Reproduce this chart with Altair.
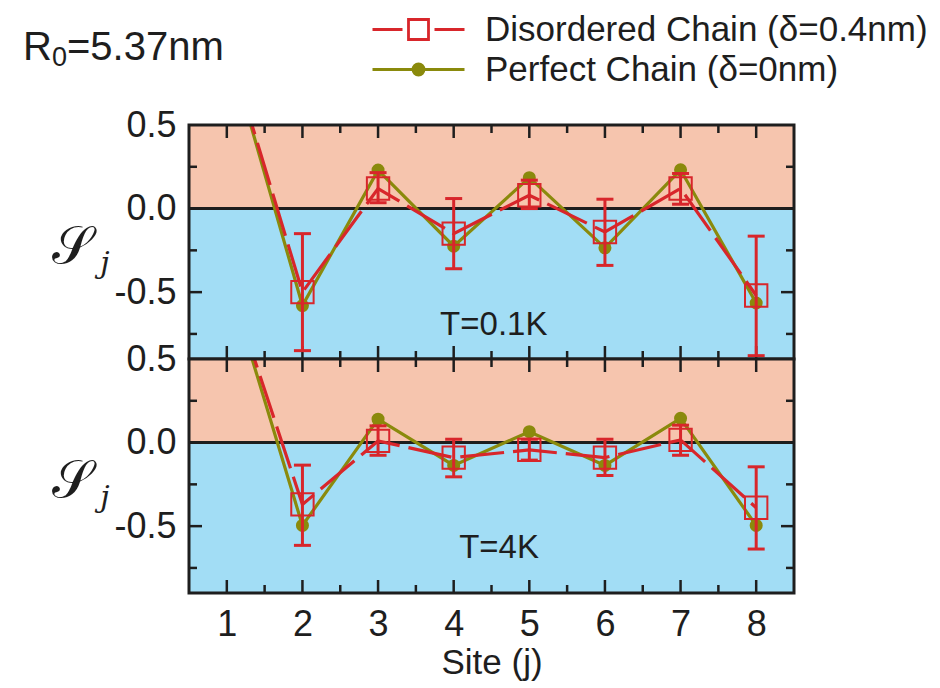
import altair as alt
import pandas as pd

# ---------------- data ----------------
sites = [1, 2, 3, 4, 5, 6, 7, 8]
series_names = ["Disordered Chain (δ=0.4nm)", "Perfect Chain (δ=0nm)"]

# T = 0.1 K
dis_01 = [1.0, -0.50, 0.12, -0.15, 0.08, -0.14, 0.12, -0.52]
dis_01_lo = [None, -0.85, 0.035, -0.36, 0.0, -0.34, 0.026, -0.88]
dis_01_hi = [None, -0.15, 0.215, 0.06, 0.17, 0.056, 0.21, -0.165]
per_01 = [1.0, -0.58, 0.23, -0.225, 0.185, -0.235, 0.232, -0.565]

# T = 4 K
dis_4 = [1.0, -0.37, 0.01, -0.09, -0.044, -0.09, 0.016, -0.39]
dis_4_lo = [None, -0.615, -0.076, -0.205, -0.105, -0.197, -0.076, -0.637]
dis_4_hi = [None, -0.135, 0.10, 0.02, 0.02, 0.02, 0.104, -0.145]
per_4 = [1.0, -0.496, 0.14, -0.137, 0.065, -0.137, 0.145, -0.496]

x_domain = [0.5, 8.5]
y_domain = [-0.9, 0.5]
y_labels = [-0.5, 0.0, 0.5]
x_major = [1, 2, 3, 4, 5, 6, 7, 8]
x_minor = [1.5, 2.5, 3.5, 4.5, 5.5, 6.5, 7.5]
y_major = [0.0, -0.5]
y_minor = [0.25, -0.25, -0.75]

# ---------------- style ----------------
W, H = 605, 234
RED = "#d8262b"
OLIVE = "#8a8a0c"
SALMON = "#f6c5ae"
BLUE = "#a2ddf5"
INK = "#1e1e1e"
FONT = "Liberation Sans, Arial, sans-serif"

xs = alt.Scale(domain=x_domain, nice=False, zero=False)
ys = alt.Scale(domain=y_domain, nice=False, zero=False)

SQ_PATH = "M-4.6,0H-1.6M1.6,0H4.6M-1,-1H1V1H-1Z"
CI_PATH = ("M-4.6,0H4.6"
           "M-0.55,0A0.55,0.55 0 1,0 0.55,0A0.55,0.55 0 1,0 -0.55,0Z"
           "M-0.3,0A0.3,0.3 0 1,0 0.3,0A0.3,0.3 0 1,0 -0.3,0Z"
           "M-0.08,0A0.08,0.08 0 1,0 0.08,0A0.08,0.08 0 1,0 -0.08,0Z")


def panel(dis, lo, hi, per, tlabel, tx, ty, bottom, top):
    df = pd.DataFrame({"site": sites, "dis": dis, "lo": lo, "hi": hi, "per": per})
    base = alt.Chart(df)

    if bottom:
        xax = alt.Axis(values=x_major, format="d", ticks=False, domain=False, grid=False,
                       labelFont=FONT, labelFontSize=36, labelColor=INK, labelPadding=14,
                       title="Site (j)", titleFont=FONT, titleFontSize=35,
                       titleFontWeight="normal", titleColor=INK, titlePadding=3)
    else:
        xax = None
    yax = alt.Axis(values=y_labels, ticks=False, domain=False, grid=False,
                   labelExpr="replace(format(datum.value, '.1f'), '\u2212', '-')",
                   labelFont=FONT, labelFontSize=36, labelColor=INK, labelPadding=13,
                   title=None)

    def X(f):
        return alt.X(f, scale=xs, axis=xax, title="Site (j)" if bottom else None)

    def Y(f):
        return alt.Y(f, scale=ys, axis=yax, title=None)

    bands = pd.DataFrame({"x0": [x_domain[0], x_domain[0]], "x1": [x_domain[1], x_domain[1]],
                          "y0": [0.0, y_domain[0]], "y1": [y_domain[1], 0.0],
                          "band": ["pos", "neg"]})
    band_layer = alt.Chart(bands).mark_rect().encode(
        x=X("x0:Q"), x2="x1:Q", y=Y("y0:Q"), y2="y1:Q",
        fill=alt.Fill("band:N", scale=alt.Scale(domain=["pos", "neg"], range=[SALMON, BLUE]),
                      legend=None),
    )
    frame = alt.Chart(pd.DataFrame({"x0": [x_domain[0]], "x1": [x_domain[1]],
                                    "y0": [y_domain[0]], "y1": [y_domain[1]]})).mark_rect(
        fillOpacity=0, stroke=INK, strokeWidth=3
    ).encode(x=X("x0:Q"), x2="x1:Q", y=Y("y0:Q"), y2="y1:Q")

    zero = alt.Chart(pd.DataFrame({"z": [0.0]})).mark_rule(
        color=INK, strokeWidth=3
    ).encode(y=Y("z:Q"))

    xmaj = pd.DataFrame({"t": x_major})
    xmin = pd.DataFrame({"t": x_minor})
    ymaj = pd.DataFrame({"t": y_major})
    ymin = pd.DataFrame({"t": y_minor})
    ticks = []
    for d, L in ((xmaj, 13), (xmin, 8)):
        ticks.append(alt.Chart(d).mark_rule(color=INK, strokeWidth=2.5).encode(
            x=X("t:Q"), y=alt.value(0), y2=alt.value(L)))
        ticks.append(alt.Chart(d).mark_rule(color=INK, strokeWidth=2.5).encode(
            x=X("t:Q"), y=alt.value(H), y2=alt.value(H - L)))
    for d, L in ((ymaj, 13), (ymin, 8)):
        ticks.append(alt.Chart(d).mark_rule(color=INK, strokeWidth=2.5).encode(
            y=Y("t:Q"), x=alt.value(0), x2=alt.value(L)))
        ticks.append(alt.Chart(d).mark_rule(color=INK, strokeWidth=2.5).encode(
            y=Y("t:Q"), x=alt.value(W), x2=alt.value(W - L)))

    per_line = base.mark_line(color=OLIVE, strokeWidth=3.2, clip=True).encode(
        x=X("site:Q"), y=Y("per:Q"))
    per_pts = base.mark_point(shape="circle", filled=True, size=170, color=OLIVE,
                              opacity=1, clip=True).encode(x=X("site:Q"), y=Y("per:Q"))
    dis_line = base.mark_line(color=RED, strokeWidth=3.2, clip=True,
                              strokeDash=[44, 9]).encode(x=X("site:Q"), y=Y("dis:Q"))
    err = base.transform_filter("isValid(datum.lo)").mark_rule(
        color=RED, strokeWidth=3).encode(x=X("site:Q"), y=Y("lo:Q"), y2="hi:Q")
    caps_lo = base.transform_filter("isValid(datum.lo)").mark_tick(
        orient="horizontal", size=17, thickness=3, color=RED, opacity=1).encode(
        x=X("site:Q"), y=Y("lo:Q"))
    caps_hi = base.transform_filter("isValid(datum.hi)").mark_tick(
        orient="horizontal", size=17, thickness=3, color=RED, opacity=1).encode(
        x=X("site:Q"), y=Y("hi:Q"))
    sq = base.transform_filter("datum.site > 1").mark_point(
        shape="square", size=500, filled=False, color=RED, strokeWidth=2,
        opacity=1, clip=True).encode(x=X("site:Q"), y=Y("dis:Q"))

    tl = alt.Chart(pd.DataFrame({"t": [tlabel], "x": [tx], "y": [ty]})).mark_text(
        font=FONT, fontSize=33, color=INK).encode(
        x=X("x:Q"), y=Y("y:Q"), text="t:N")

    s_txt = alt.Chart(pd.DataFrame({"t": ["\U0001D4AE"]})).mark_text(
        font="DejaVu Serif", fontSize=52, color=INK).encode(
        x=alt.value(-117), y=alt.value(122), text="t:N")
    j_txt = alt.Chart(pd.DataFrame({"t": ["j"]})).mark_text(
        font="DejaVu Serif", fontSize=30, color=INK, fontStyle="italic").encode(
        x=alt.value(-84), y=alt.value(139), text="t:N")

    layers = [band_layer, zero] + ticks + [per_line, per_pts, dis_line, err,
                                           caps_lo, caps_hi, sq, frame, tl, s_txt, j_txt]
    if top:
        r_txt = alt.Chart(pd.DataFrame({"t": ["R"]})).mark_text(
            font=FONT, fontSize=40, color=INK, align="left").encode(
            x=alt.value(-166), y=alt.value(-77), text="t:N")
        sub_txt = alt.Chart(pd.DataFrame({"t": ["0"]})).mark_text(
            font=FONT, fontSize=27, color=INK, align="left").encode(
            x=alt.value(-137), y=alt.value(-67), text="t:N")
        rest_txt = alt.Chart(pd.DataFrame({"t": ["=5.37nm"]})).mark_text(
            font=FONT, fontSize=40, color=INK, align="left").encode(
            x=alt.value(-122), y=alt.value(-77), text="t:N")
        leg_df = pd.DataFrame({"series": series_names})
        leg_kw = dict(title=None, orient="none", legendX=212, legendY=-113,
                      labelFont=FONT, labelFontSize=35, labelColor=INK,
                      symbolSize=400, symbolStrokeWidth=2.8, symbolOpacity=1,
                      labelOffset=49, rowPadding=4, labelLimit=700)
        leg = alt.Chart(leg_df).mark_point(opacity=0, size=400).encode(
            shape=alt.Shape("series:N", scale=alt.Scale(domain=series_names,
                                                        range=[SQ_PATH, CI_PATH]),
                            legend=alt.Legend(**leg_kw)),
            stroke=alt.Stroke("series:N", scale=alt.Scale(domain=series_names,
                                                          range=[RED, OLIVE]),
                              legend=alt.Legend(**leg_kw)),
        )
        layers += [r_txt, sub_txt, rest_txt, leg]

    return alt.layer(*layers).properties(width=W, height=H)


top = panel(dis_01, dis_01_lo, dis_01_hi, per_01, "T=0.1K", 4.53, -0.695, False, True)
bot = panel(dis_4, dis_4_lo, dis_4_hi, per_4, "T=4K", 4.6, -0.63, True, False)

chart = alt.vconcat(top, bot, spacing=0, bounds="flush").resolve_scale(
    fill="independent"
).properties(
    padding={"left": 14, "top": 4, "right": 4, "bottom": 4}
).configure_view(stroke="transparent").configure(background="white")

chart.save("out.html", embed_options={"renderer": "svg", "actions": False})
